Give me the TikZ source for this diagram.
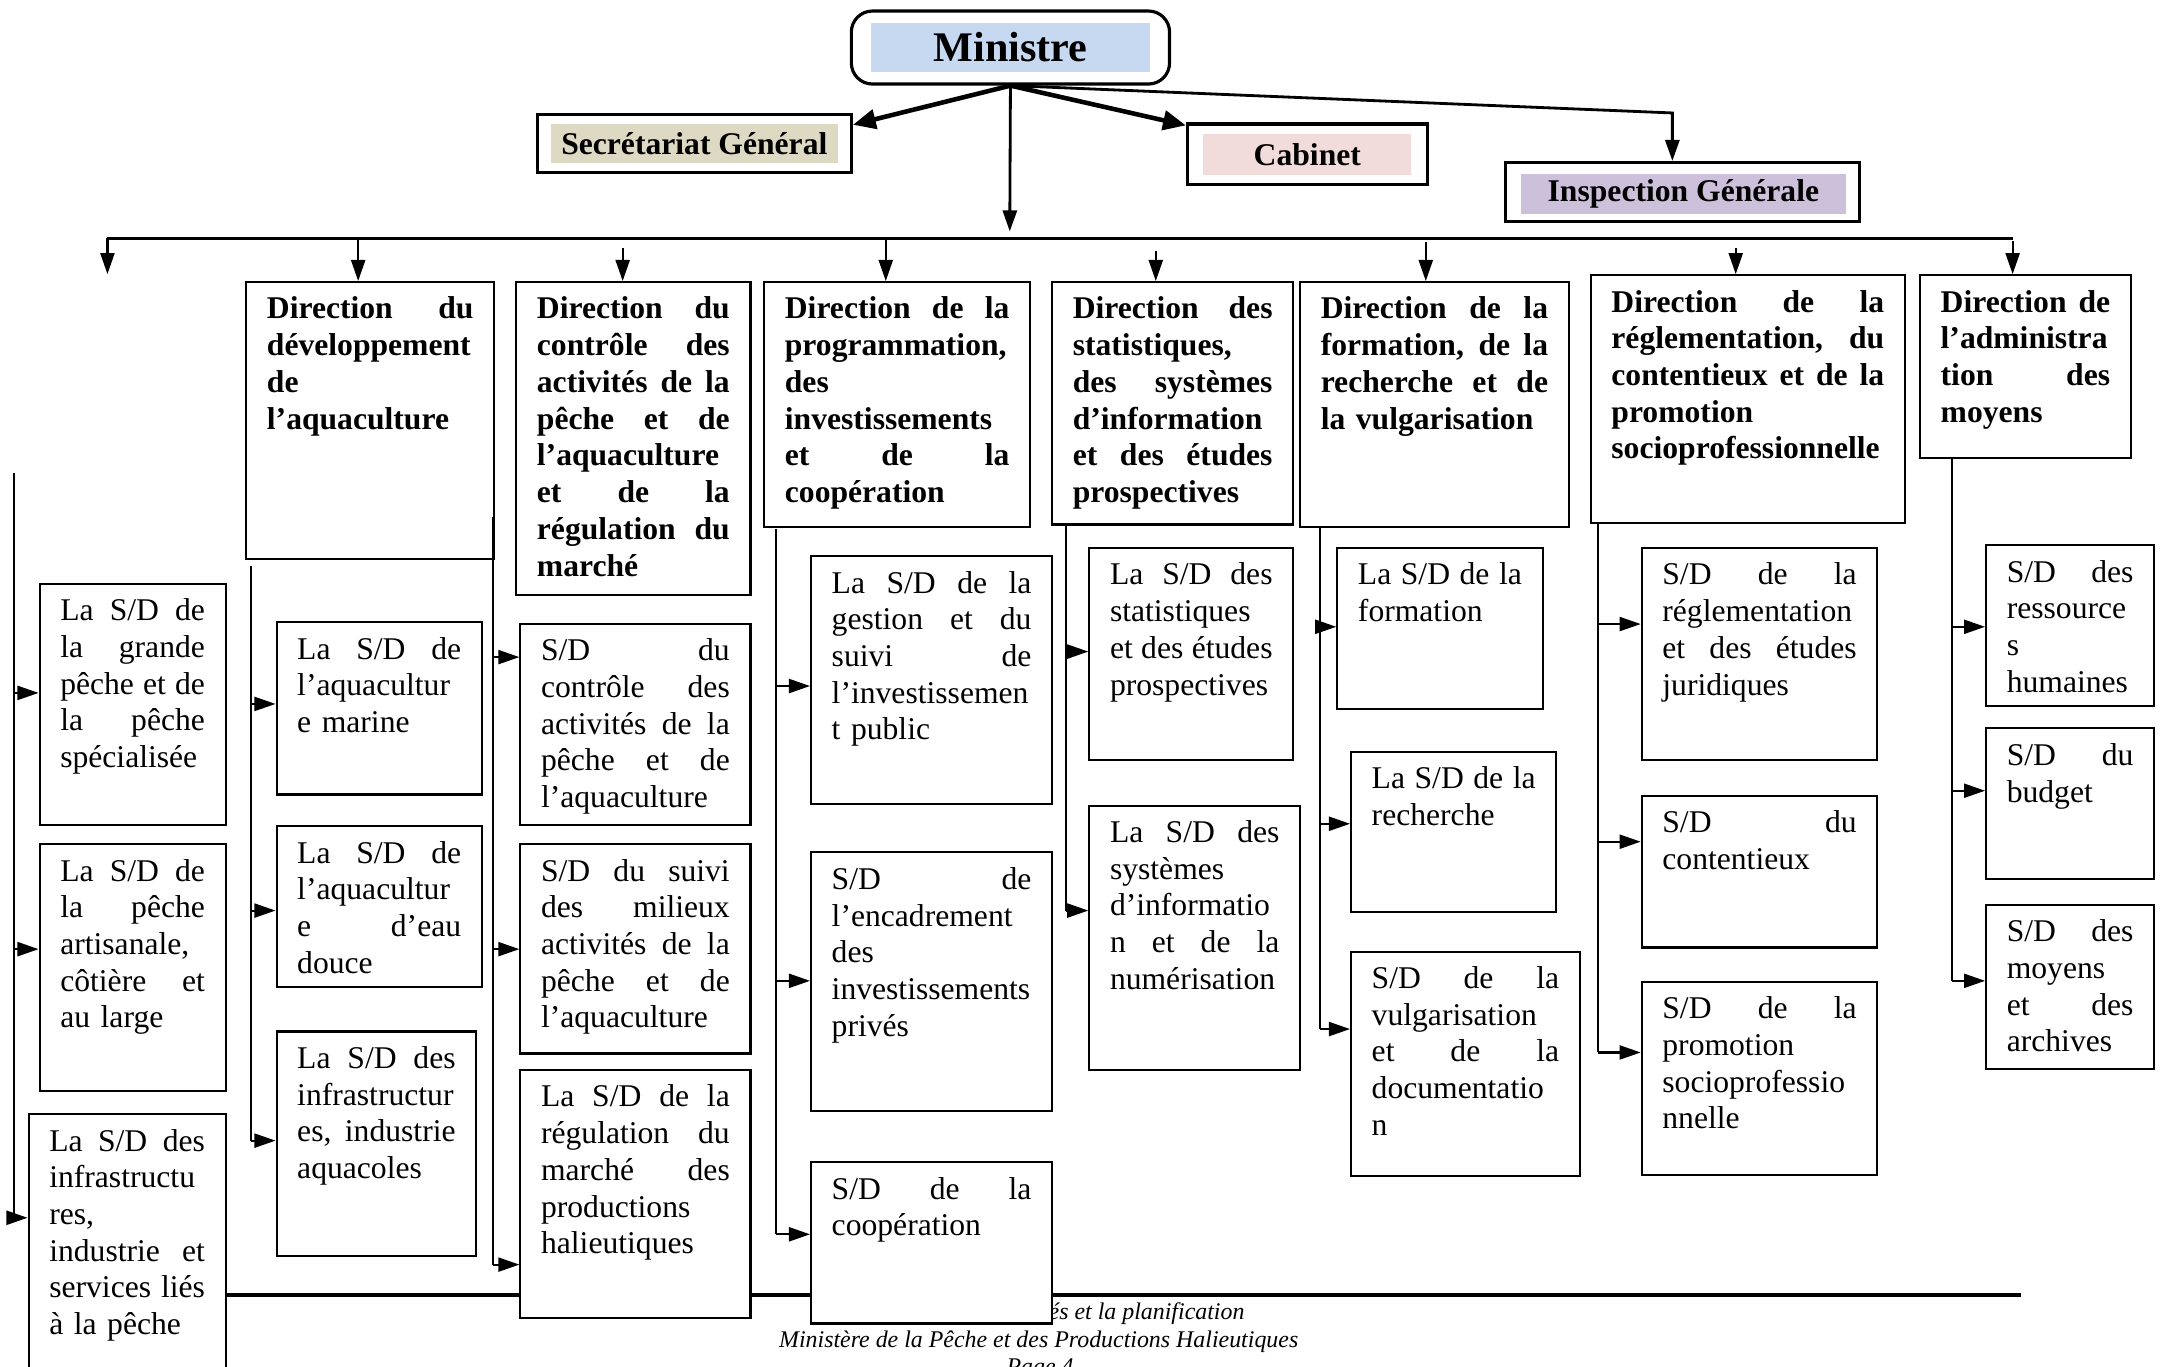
\documentclass[tikz,border=0pt]{standalone}
\usepackage{fontspec}
\setmainfont{Liberation Serif}
\usepackage{tikz}
\usetikzlibrary{arrows.meta}
\definecolor{minblue}{HTML}{C6D9F1}
\definecolor{sgbeige}{HTML}{DDD9C3}
\definecolor{cabpink}{HTML}{F2DCDB}
\definecolor{iglilac}{HTML}{CCC0DA}
\newcommand{\px}{0.013776cm}
\newcommand{\jl}[1]{{\spaceskip=0pt\xspaceskip=0pt\makebox[\linewidth][s]{#1}}}
\newcommand{\sdfont}{\fontsize{9}{10.45}\selectfont}
\tikzstyle{topbox}=[draw=black,line width=0.9pt,fill=white,inner sep=0pt]
\tikzstyle{toplab}=[inner sep=0pt,font=\fontsize{9}{11}\selectfont\bfseries]
\tikzstyle{arr}=[-{Triangle[length=6pt,width=4pt]},line width=0.6pt]
\tikzstyle{bigarr}=[-{Triangle[length=6.5pt,width=5.5pt]},line width=1.3pt]
\tikzstyle{spine}=[line width=0.6pt]
\tikzset{
  sdbox/.style 2 args={draw=black,line width=0.6pt,fill=white,anchor=north west,
    inner xsep=5.86pt,inner ysep=2pt,align=left,font=\sdfont,
    text width={(#1-30)*\px},minimum width={#1*\px},
    text height=8.5pt,text depth={#2*\px-12.5pt}},
  dirbox/.style 2 args={sdbox={#1}{#2},font=\sdfont\bfseries}
}
\begin{document}
\begin{tikzpicture}[x=0.013776cm,y=-0.013776cm]
  \useasboundingbox (0,0) rectangle (1568,992);
  \clip (0,0) rectangle (1568,992);

  % pied de page
  \coordinate (footL) at (163,940);
  \coordinate (footR) at (1467,940);
  \draw[line width=1.1pt] (footL) -- (footR);
  \node[anchor=base,inner sep=0pt,font=\fontsize{6.8}{8}\selectfont\itshape] (foot1) at (754,958) {Rapport sur les priorités et la planification};
  \node[anchor=base,inner sep=0pt,font=\fontsize{6.8}{8}\selectfont\itshape] (foot2) at (754,978) {Ministère de la Pêche et des Productions Halieutiques};
  \node[anchor=base,inner sep=0pt,font=\fontsize{6.8}{8}\selectfont\itshape] (foot3) at (755,998) {Page 4};

  % sommet
  \node[topbox,rounded corners=6pt,minimum width={231*\px},minimum height={53*\px}] (min) at (733.5,34.5) {};
  \node[fill=minblue,inner sep=0pt,minimum width={203*\px},minimum height={35*\px},font=\fontsize{12}{14}\selectfont\bfseries] (minlab) at (min) {Ministre};
  \node[topbox,minimum width={228*\px},minimum height={42*\px}] (sg) at (504,104) {};
  \node[toplab,fill=sgbeige,minimum width={208*\px},minimum height={28*\px}] (sglab) at (sg) {Secrétariat Général};
  \node[topbox,minimum width={174*\px},minimum height={44*\px}] (cab) at (949,112) {};
  \node[toplab,fill=cabpink,minimum width={151*\px},minimum height={30*\px}] (cablab) at (cab) {Cabinet};
  \node[topbox,minimum width={257*\px},minimum height={43*\px}] (ig) at (1221.5,139.5) {};
  \node[toplab,fill=iglilac,minimum width={236*\px},minimum height={29*\px}] (iglab) at (1222,141) {Inspection Générale};

  \draw[bigarr] (min.south) -- ([yshift=-0.12cm]sg.north east);
  \draw[bigarr] (min.south) -- ([yshift=-0.03cm]cab.north west);
  \coordinate (igbend) at (1214,82);
  \draw[arr,line width=0.8pt] (min.south) -- (igbend) -- (igbend |- ig.north);
  \coordinate (mtip) at (733,168);
  \draw[arr,line width=0.8pt] (min.south) -- (mtip);

  % directions
  \node[dirbox={180}{201}] (D1) at (178,204) {\jl{Direction du}\\ développement\\ de\\ l’aquaculture};
  \node[dirbox={170}{227}] (D2) at (374,204) {\jl{Direction du}\\ \jl{contrôle des}\\ \jl{activités de la}\\ \jl{pêche et de}\\ l’aquaculture\\ \jl{et de la}\\ \jl{régulation du}\\ marché};
  \node[dirbox={193}{178}] (D3) at (554,204) {\jl{Direction de la}\\ programmation,\\ des\\ investissements\\ \jl{et de la}\\ coopération};
  \node[dirbox={175}{176}] (D4) at (763,204) {\jl{Direction des}\\ statistiques,\\ \jl{des systèmes}\\ d’information\\ \jl{et des études}\\ prospectives};
  \node[dirbox={195}{178}] (D5) at (943,204) {\jl{Direction de la}\\ \jl{formation, de la}\\ \jl{recherche et de}\\ la vulgarisation};
  \node[dirbox={228}{180}] (D6) at (1154,199) {\jl{Direction de la}\\ \jl{réglementation, du}\\ \jl{contentieux et de la}\\ promotion\\ socioprofessionnelle};
  \node[dirbox={153}{133}] (D7) at (1393,199) {\jl{Direction de}\\ l’administra\\ \jl{tion des}\\ moyens};

  % bus des directions
  \coordinate (busL) at (78,173);
  \coordinate (busR) at (1461,173);
  \draw[line width=0.9pt] (busL) -- (busR);
  \coordinate (d0tip) at (78,199);
  \draw[arr] (busL) -- (d0tip);
  \foreach \d/\x/\y in {D1/260/173,D2/452/180,D3/643/173,D4/839/182,D5/1035/176,D6/1260/180,D7/1461/175}
    \draw[arr] (\x,\y) -- (\d.north -| \x,0);

  % sous-directions
  \node[sdbox={135}{175}] (L1) at (28,423) {\jl{La S/D de}\\ \jl{la grande}\\ \jl{pêche et de}\\ \jl{la pêche}\\ spécialisée};
  \node[sdbox={135}{179}] (L2) at (28,612) {\jl{La S/D de}\\ \jl{la pêche}\\ artisanale,\\ \jl{côtière et}\\ au large};
  \node[sdbox={143}{200}] (L3) at (20,808) {\jl{La S/D des}\\ infrastructu\\ res,\\ \jl{industrie et}\\ \jl{services liés}\\ à la pêche};

  \node[sdbox={149}{125}] (M1) at (200,451) {\jl{La S/D de}\\ l’aquacultur\\ e marine};
  \node[sdbox={149}{117}] (M2) at (200,599) {\jl{La S/D de}\\ l’aquacultur\\ \jl{e d’eau}\\ douce};
  \node[sdbox={145}{163}] (M3) at (200,748) {\jl{La S/D des}\\ infrastructur\\ \jl{es, industrie}\\ aquacoles};

  \node[sdbox={167}{146}] (S1) at (377,452) {\jl{S/D du}\\ \jl{contrôle des}\\ \jl{activités de la}\\ \jl{pêche et de}\\ l’aquaculture};
  \node[sdbox={167}{152}] (S2) at (377,612) {\jl{S/D du suivi}\\ \jl{des milieux}\\ \jl{activités de la}\\ \jl{pêche et de}\\ l’aquaculture};
  \node[sdbox={167}{180}] (S3) at (377,776) {\jl{La S/D de la}\\ \jl{régulation du}\\ \jl{marché des}\\ productions\\ halieutiques};

  \node[sdbox={175}{180}] (P1) at (588,403) {\jl{La S/D de la}\\ \jl{gestion et du}\\ \jl{suivi de}\\ l’investissemen\\ t public};
  \node[sdbox={175}{188}] (P2) at (588,618) {\jl{S/D de}\\ l’encadrement\\ des\\ investissements\\ privés};
  \node[sdbox={175}{117}] (P3) at (588,843) {\jl{S/D de la}\\ coopération};

  \node[sdbox={148}{154}] (T1) at (790,397) {\jl{La S/D des}\\ statistiques\\ \jl{et des études}\\ prospectives};
  \node[sdbox={153}{192}] (T2) at (790,584) {\jl{La S/D des}\\ systèmes\\ d’informatio\\ \jl{n et de la}\\ numérisation};

  \node[sdbox={149}{117}] (F1) at (970,397) {\jl{La S/D de la}\\ formation};
  \node[sdbox={149}{116}] (F2) at (980,545) {\jl{La S/D de la}\\ recherche};
  \node[sdbox={166}{163}] (F3) at (980,690) {\jl{S/D de la}\\ vulgarisation\\ \jl{et de la}\\ documentatio\\ n};

  \node[sdbox={171}{154}] (R1) at (1191,397) {\jl{S/D de la}\\ réglementation\\ \jl{et des études}\\ juridiques};
  \node[sdbox={171}{110}] (R2) at (1191,577) {\jl{S/D du}\\ contentieux};
  \node[sdbox={171}{140}] (R3) at (1191,712) {\jl{S/D de la}\\ promotion\\ socioprofessio\\ nnelle};

  \node[sdbox={122}{117}] (A1) at (1441,395) {\jl{S/D des}\\ ressource\\ s\\ humaines};
  \node[sdbox={122}{109}] (A2) at (1441,528) {\jl{S/D du}\\ budget};
  \node[sdbox={122}{119}] (A3) at (1441,656) {\jl{S/D des}\\ moyens\\ \jl{et des}\\ archives};

  % lignes verticales
  \foreach \x/\ya/\yb in {10/343/884,182/411/828,358/375/918,563/384/896,774/381/661,958/383/747,1160/380/764,1417/332/712}
    \draw[spine] (\x,\ya) -- (\x,\yb);
  \foreach \x/\b/\y in {10/L1/503,10/L2/689,10/L3/884,
      182/M1/511,182/M2/661,182/M3/828,
      358/S1/477,358/S2/689,358/S3/918,
      563/P1/498,563/P2/712,563/P3/896,
      774/T1/473,774/T2/661,
      958/F1/455,958/F2/598,958/F3/747,
      1160/R1/453,1160/R2/611,1160/R3/764,
      1417/A1/455,1417/A2/574,1417/A3/712}
    \draw[arr] (\x,\y) -- (\b.west |- \x,\y);

\end{tikzpicture}
\end{document}
